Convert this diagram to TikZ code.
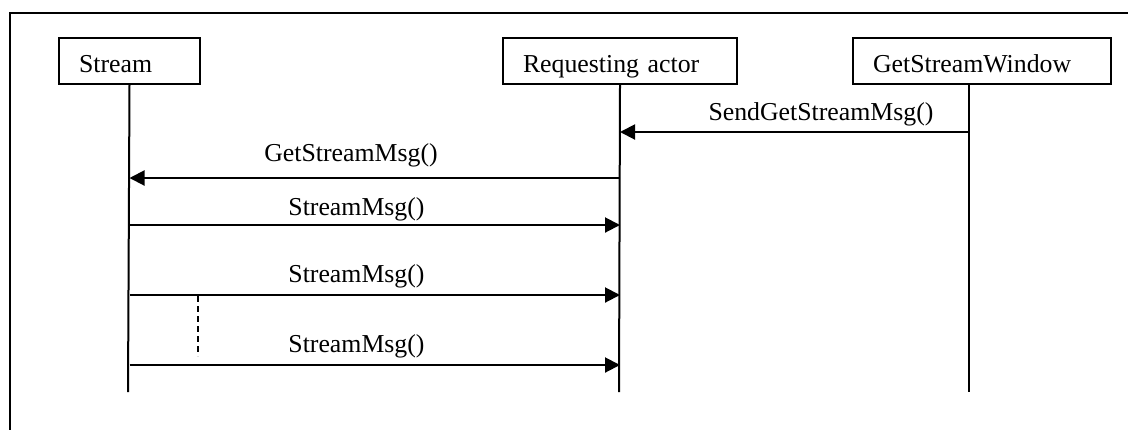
\documentclass[tikz,border=0pt]{standalone}
\usepackage{fontspec}
\setmainfont{Liberation Serif}
\usetikzlibrary{arrows.meta}
\begin{document}
\begin{tikzpicture}[x=0.5pt,y=-0.5pt,
  every node/.style={font=\fontsize{12.9}{15}\selectfont},
  actor/.style={draw, line width=1pt, anchor=north west, minimum height=23pt,
    inner xsep=10pt, inner ysep=0pt, align=left, text height=13pt, text depth=2pt},
  lifeline/.style={line width=1pt},
  msg/.style={line width=1pt, -{Triangle[length=7.5pt,width=7.5pt]}},
  msglabel/.style={anchor=base, inner sep=0pt},
  gap/.style={line width=1pt, dash pattern=on 3pt off 2pt}]
  \useasboundingbox (0,0) rectangle (1128,430);
  % frame (top and left edges)
  \draw[line width=1pt] (1128,13) -- (10,13) -- (10,430);
  % actors
  \node[actor, text width=50.5pt] (stream) at (58,37) {Stream};
  \node[actor, text width=97pt] (req) at (502,37) {Requesting actor};
  \node[actor, text width=109pt] (gsw) at (852,37) {GetStreamWindow};
  % lifelines
  \coordinate (gswtop) at (969,83);
  \coordinate (streamend) at (128,392);
  \coordinate (reqend) at (619,392);
  \coordinate (gswend) at (969,392);
  \draw[lifeline] (stream.south) -- (streamend);
  \draw[lifeline] (req.south) -- (reqend);
  \draw[lifeline] (gswtop) -- (gswend);
  % messages
  \draw[msg] (gswtop |- 0,132) -- (req.south |- 0,132);
  \node[msglabel] (l1) at (821,120) {SendGetStreamMsg()};
  \draw[msg] (req.south |- 0,178) -- (stream.south |- 0,178);
  \node[msglabel] (l2) at (351,161) {GetStreamMsg()};
  \draw[msg] (stream.south |- 0,225) -- (req.south |- 0,225);
  \node[msglabel] (l3) at (356.5,215) {StreamMsg()};
  \draw[msg] (stream.south |- 0,295) -- (req.south |- 0,295);
  \node[msglabel] (l4) at (356.5,282) {StreamMsg()};
  \draw[msg] (stream.south |- 0,365) -- (req.south |- 0,365);
  \node[msglabel] (l5) at (356.5,352) {StreamMsg()};
  % repeated-messages marker
  \coordinate (gaptop) at (198,296);
  \coordinate (gapend) at (198,356);
  \draw[gap] (gaptop) -- (gapend);
\end{tikzpicture}
\end{document}
